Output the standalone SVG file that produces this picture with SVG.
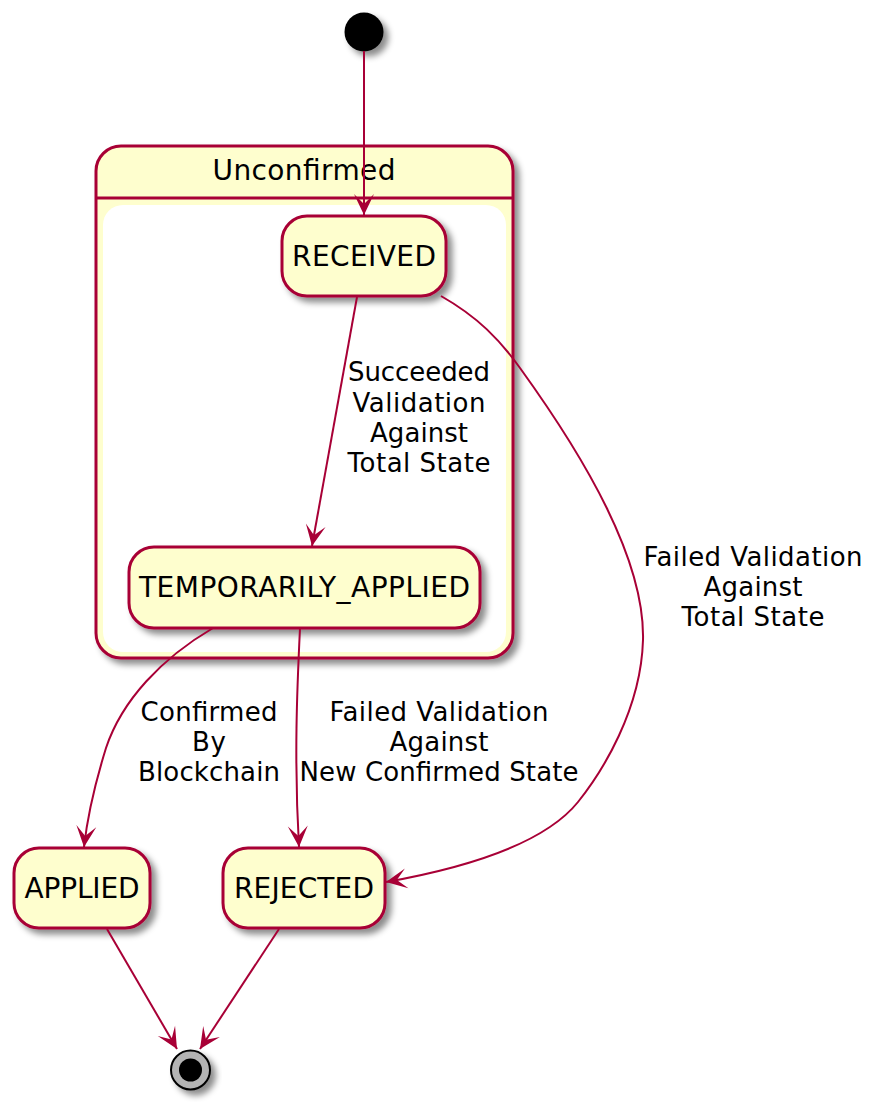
<svg xmlns="http://www.w3.org/2000/svg" width="876" height="1112" viewBox="0 0 876 1112">
<defs>
<filter id="sh" x="-20%" y="-20%" width="150%" height="150%">
<feGaussianBlur in="SourceAlpha" stdDeviation="3"/>
<feOffset dx="5" dy="5" result="b"/>
<feColorMatrix in="b" type="matrix" values="0 0 0 0 0  0 0 0 0 0  0 0 0 0 0  0 0 0 0.45 0"/>
<feMerge><feMergeNode/><feMergeNode in="SourceGraphic"/></feMerge>
</filter>
<marker id="ah" markerUnits="userSpaceOnUse" markerWidth="24" markerHeight="24" viewBox="-22 -11 24 22" refX="0" refY="0" orient="auto">
<path d="M0,0 L-21,-10 L-11,0 L-21,10 Z" fill="#A80036"/>
</marker>
</defs>
<style>
.st{fill:#FEFECE;stroke:#A80036;stroke-width:3}
.nm{font-family:"DejaVu Sans",sans-serif;font-size:28px;fill:#000;text-anchor:middle}
.lb{font-family:"DejaVu Sans",sans-serif;font-size:26px;fill:#000;text-anchor:middle}
.ed{fill:none;stroke:#A80036;stroke-width:2;marker-end:url(#ah)}
</style>

<g id="initial">
<circle cx="364" cy="32" r="19.5" fill="#000" filter="url(#sh)"/>
</g>

<g id="Unconfirmed">
<rect x="96" y="146" width="417" height="512" rx="25" class="st" filter="url(#sh)"/>
<line x1="96" y1="198" x2="513" y2="198" stroke="#A80036" stroke-width="3"/>
<rect x="103" y="205" width="403" height="447" rx="20" fill="#fff"/>
<text x="304" y="180" class="nm" textLength="183" lengthAdjust="spacing">Unconfirmed</text>
</g>

<g id="RECEIVED">
<rect x="282" y="216" width="164" height="80" rx="25" class="st" filter="url(#sh)"/>
<text x="364" y="266" class="nm" textLength="144" lengthAdjust="spacing">RECEIVED</text>
</g>

<g id="TEMPORARILY_APPLIED">
<rect x="129" y="547" width="351" height="81" rx="25" class="st" filter="url(#sh)"/>
<text x="304.5" y="597" class="nm" textLength="331" lengthAdjust="spacing">TEMPORARILY_APPLIED</text>
</g>

<g id="APPLIED">
<rect x="14" y="848" width="136" height="80" rx="25" class="st" filter="url(#sh)"/>
<text x="82" y="898" class="nm" textLength="115" lengthAdjust="spacing">APPLIED</text>
</g>

<g id="REJECTED">
<rect x="223" y="848" width="162" height="80" rx="25" class="st" filter="url(#sh)"/>
<text x="304" y="898" class="nm" textLength="140" lengthAdjust="spacing">REJECTED</text>
</g>

<g id="final">
<circle cx="190.5" cy="1070" r="19.5" fill="#b4b4b4" stroke="#000" stroke-width="2" filter="url(#sh)"/>
<circle cx="190.5" cy="1070" r="11.5" fill="#000"/>
</g>

<g id="connectors">
<path class="ed" d="M364,51 L364,215"/>
<path class="ed" d="M357,297 L312,546"/>
<path class="ed" d="M441,296 C478,317 500,340 520,368 C585,458 645,560 643,640 C641,710 602,772 578,802 C545,843 470,867 386,882"/>
<path class="ed" d="M213,628 C162,658 122,700 106,748 C93,790 87,820 84,847"/>
<path class="ed" d="M300,628 C297,690 294,760 299,847"/>
<path class="ed" d="M107,929 L177,1049"/>
<path class="ed" d="M279,929 L200,1049"/>
</g>

<g id="labels">
<text class="lb" x="419" y="381" textLength="142" lengthAdjust="spacing">Succeeded</text>
<text class="lb" x="419" y="412" textLength="133" lengthAdjust="spacing">Validation</text>
<text class="lb" x="419" y="442" textLength="98" lengthAdjust="spacing">Against</text>
<text class="lb" x="419" y="472" textLength="143" lengthAdjust="spacing">Total State</text>

<text class="lb" x="753" y="566" textLength="219" lengthAdjust="spacing">Failed Validation</text>
<text class="lb" x="753" y="596" textLength="99" lengthAdjust="spacing">Against</text>
<text class="lb" x="753" y="626" textLength="143" lengthAdjust="spacing">Total State</text>

<text class="lb" x="209" y="721" textLength="137" lengthAdjust="spacing">Confirmed</text>
<text class="lb" x="209" y="751" textLength="34" lengthAdjust="spacing">By</text>
<text class="lb" x="209" y="781" textLength="142" lengthAdjust="spacing">Blockchain</text>

<text class="lb" x="439" y="721" textLength="219" lengthAdjust="spacing">Failed Validation</text>
<text class="lb" x="439" y="751" textLength="99" lengthAdjust="spacing">Against</text>
<text class="lb" x="439" y="781" textLength="279" lengthAdjust="spacing">New Confirmed State</text>
</g>
</svg>
